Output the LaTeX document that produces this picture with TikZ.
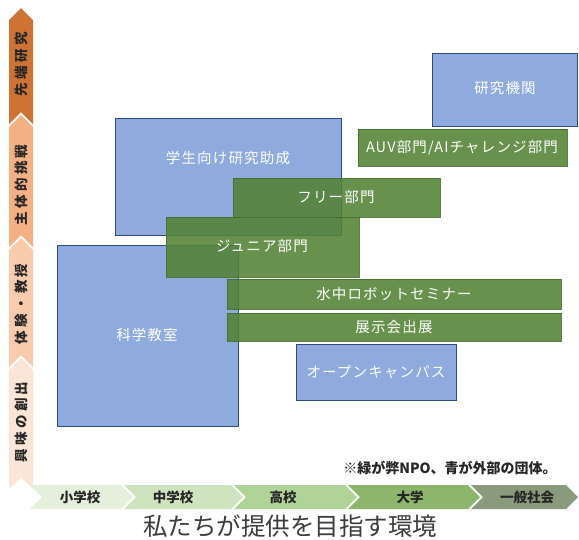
\documentclass[tikz,border=0pt]{standalone}
\usepackage{fontspec}
\newfontfamily\jp{Noto Sans CJK JP}
\newfontfamily\jpbox[LetterSpace=8]{Noto Sans CJK JP}
\newfontfamily\jpax[LetterSpace=25]{Noto Sans CJK JP}
\definecolor{bfill}{HTML}{8FAADC}
\definecolor{bline}{HTML}{2A4A80}
\definecolor{gfill}{HTML}{548235}
\definecolor{gline}{HTML}{466F2C}
\definecolor{axA}{HTML}{CD7434}
\definecolor{axB}{HTML}{F4B183}
\definecolor{axC}{HTML}{F8CBAD}
\definecolor{axD}{HTML}{FBE5D6}
\definecolor{hzA}{HTML}{E4EFDC}
\definecolor{hzB}{HTML}{CFE3BF}
\definecolor{hzC}{HTML}{B0D497}
\definecolor{hzD}{HTML}{8DB56C}
\definecolor{hzE}{HTML}{8A9B7D}
\definecolor{txt}{HTML}{262626}
\begin{document}
\begin{tikzpicture}[x=1pt,y=-1pt,
  bluebox/.style={draw=bline,line width=1pt,fill=bfill,anchor=north west,inner sep=0pt},
  greenbox/.style={draw=gline,line width=0.6pt,fill=gfill,fill opacity=0.88,draw opacity=0.88,anchor=north west,inner sep=0pt},
  boxtext/.style={text=white,font=\jpbox\fontsize{14.5}{15}\selectfont,inner sep=0pt},
  axtext/.style={text=txt,font=\jpax\bfseries\fontsize{13.5}{14}\selectfont,rotate=90,inner sep=0pt},
  hztext/.style={text=txt,font=\jp\bfseries\fontsize{13.5}{14}\selectfont,inner sep=0pt}]
\useasboundingbox (0,0) rectangle (579,539);
\fill[white] (0,0) rectangle (579,539);
% vertical axis chevrons (pointing up)
\fill[axA] (9,20) -- (21,8) -- (33,20) -- (33,124) -- (21,112) -- (9,124) -- cycle;
\fill[axB] (9,127) -- (21,115) -- (33,127) -- (33,247) -- (21,235) -- (9,247) -- cycle;
\fill[axC] (9,250) -- (21,238) -- (33,250) -- (33,367) -- (21,355) -- (9,367) -- cycle;
\fill[axD] (9,370) -- (21,358) -- (33,370) -- (33,489) -- (21,477) -- (9,489) -- cycle;
\node[axtext] (ax1) at (21,64) {先端研究};
\node[axtext] (ax2) at (21,185) {主体的挑戦};
\node[axtext] (ax3) at (21,304) {体験・教授};
\node[axtext] (ax4) at (21,422) {興味の創出};
% horizontal axis chevrons (pointing right)
\fill[hzA] (30,485) -- (121,485) -- (133,497) -- (121,509) -- (30,509) -- (42,497) -- cycle;
\fill[hzB] (124,485) -- (231,485) -- (243,497) -- (231,509) -- (124,509) -- (136,497) -- cycle;
\fill[hzC] (234,485) -- (345,485) -- (357,497) -- (345,509) -- (234,509) -- (246,497) -- cycle;
\fill[hzD] (348,485) -- (468,485) -- (480,497) -- (468,509) -- (348,509) -- (360,497) -- cycle;
\fill[hzE] (471,485) -- (566,485) -- (578,497) -- (566,509) -- (471,509) -- (483,497) -- cycle;
\node[hztext] (h1) at (80,497) {小学校};
\node[hztext] (h2) at (173,497) {中学校};
\node[hztext] (h3) at (283,497) {高校};
\node[hztext] (h4) at (410,497) {大学};
\node[hztext] (h5) at (527,497) {一般社会};
% blue boxes
\node[bluebox,minimum width=145pt,minimum height=73pt] (kikan) at (432,53) {};
\node[bluebox,minimum width=226pt,minimum height=117pt] (josei) at (115,118) {};
\node[bluebox,minimum width=181pt,minimum height=181pt] (kyoshitsu) at (57,245) {};
\node[bluebox,minimum width=160pt,minimum height=56pt] (open) at (296,344) {};
% green boxes
\node[greenbox,minimum width=209pt,minimum height=37pt] (auv) at (358,129) {};
\node[greenbox,minimum width=207pt,minimum height=39pt] (free) at (233,178) {};
\node[greenbox,minimum width=193pt,minimum height=60pt] (junior) at (166,217) {};
\node[greenbox,minimum width=334pt,minimum height=30pt] (seminar) at (227,279) {};
\node[greenbox,minimum width=334pt,minimum height=28pt] (tenji) at (227,313) {};
% box texts
\node[boxtext] (t1) at (505,88) {研究機関};
\node[boxtext] (t2) at (228,158) {学生向け研究助成};
\node[boxtext] (t3) at (147,335) {科学教室};
\node[boxtext] (t4) at (376,372) {オープンキャンパス};
\node[boxtext] (t5) at (462,148) {AUV部門/AIチャレンジ部門};
\node[boxtext] (t6) at (336,197) {フリー部門};
\node[boxtext] (t7) at (262,246) {ジュニア部門};
\node[boxtext] (t8) at (394,294) {水中ロボットセミナー};
\node[boxtext] (t9) at (394,327) {展示会出展};
% note and title
\node[text=txt,font=\jp\bfseries\fontsize{14}{15}\selectfont,inner sep=0pt] (note) at (450,468) {※緑が弊NPO、青が外部の団体。};
\node[text=txt!90,font=\jp\fontsize{24.5}{26}\selectfont,inner sep=0pt] (title) at (290,526) {私たちが提供を目指す環境};
\end{tikzpicture}
\end{document}
